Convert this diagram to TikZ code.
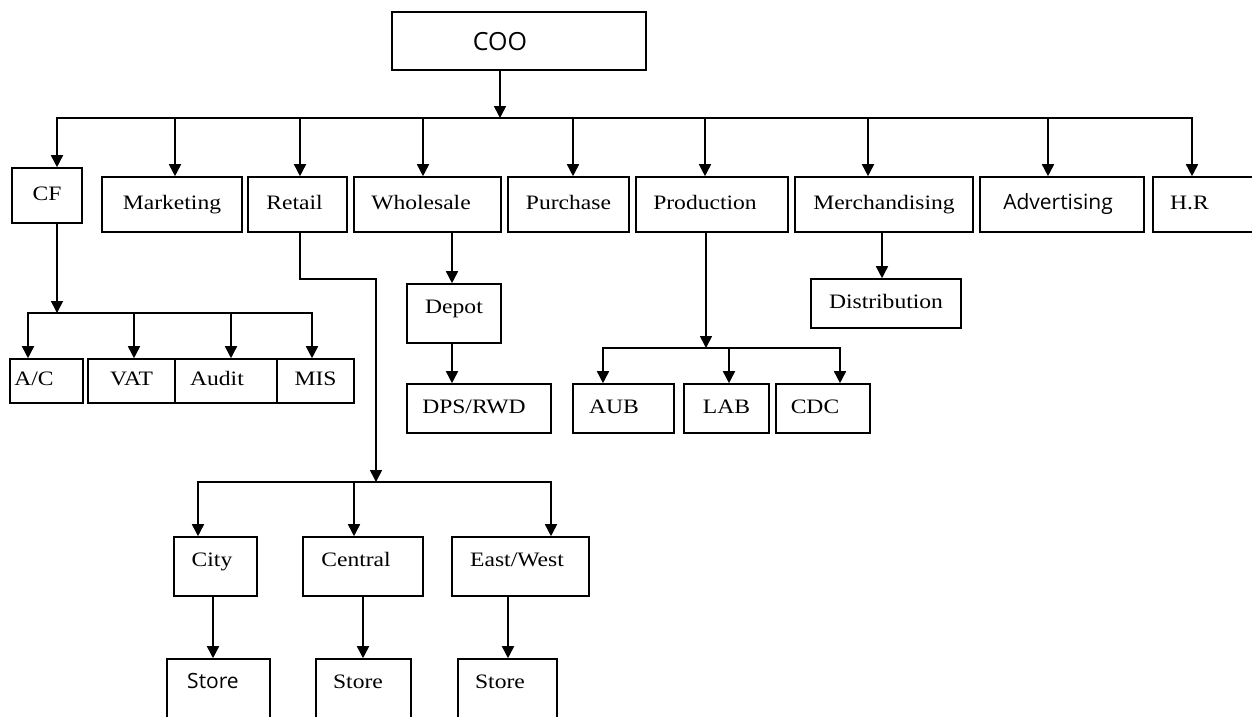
\documentclass[tikz,border=0pt]{standalone}
\usepackage{fontspec}
\setmainfont{Liberation Serif}[FakeStretch=1.15]
\newfontfamily\sansfnt{Open Sans}
\usetikzlibrary{arrows.meta}
\tikzset{
  box/.style={draw, inner sep=0pt, text height=14pt, text depth=4.5pt, font=\fontsize{20.5}{22}\selectfont},
  tallbox/.style={box, text depth=14pt},
  storebox/.style={box, text depth=26pt},
  sansbox/.style={font=\sansfnt\fontsize{21}{23}\selectfont}
}
\begin{document}
\begin{tikzpicture}[x=1pt, y=-1pt, line width=1.6pt, >={Triangle[width=12pt,length=12pt]}]
      \useasboundingbox (0,0) rectangle (1252,716);
      \node[box, minimum width=254, minimum height=58, text height=18pt, text depth=0pt, font=\sansfnt\fontsize{25}{27}\selectfont] at (519,41) (coo) {COO\hspace*{38pt}};

      % first level
      \node[box, minimum width=70, minimum height=55] at (47,195.5) (cf) {CF};
      \node[box, minimum width=140, minimum height=55] at (172,204.5) (mkt) {Marketing};
      \node[box, minimum width=99, minimum height=55] at (297.5,204.5) (retail) {Retail\hspace*{6pt}};
      \node[box, minimum width=147, minimum height=55] at (427.5,204.5) (whole) {Wholesale\hspace*{13pt}};
      \node[box, minimum width=121, minimum height=55] at (568.5,204.5) (purch) {Purchase};
      \node[box, minimum width=152, minimum height=55] at (712,204.5) (prod) {Production\hspace*{14pt}};
      \node[box, minimum width=178, minimum height=55] at (884,204.5) (merch) {Merchandising};
      \node[box, sansbox, minimum width=164, minimum height=55] at (1062,204.5) (advert) {Advertising\hspace*{8pt}};
      \node[box, minimum width=117, minimum height=55] at (1211.5,204.5) (hr) {H.R\hspace*{44pt}};

      % under CF
      \node[box, minimum width=73, minimum height=44] at (46.5,381) (ac) {A/C\hspace*{25pt}};
      \node[box, minimum width=87, minimum height=44] at (131.5,381) (vat) {VAT};
      \node[box, minimum width=102, minimum height=44] at (226,381) (audit) {Audit\hspace*{18pt}};
      \node[box, minimum width=77, minimum height=44] at (315.5,381) (mis) {MIS};

      % under wholesale, production, merchandising
      \node[tallbox, minimum width=94, minimum height=59] at (454,313.5) (depot) {Depot};
      \node[box, minimum width=144, minimum height=49] at (479,408.5) (dps) {DPS/RWD\hspace*{10pt}};
      \node[box, minimum width=101, minimum height=49] at (623.5,408.5) (aub) {AUB\hspace*{19pt}};
      \node[box, minimum width=85, minimum height=49] at (726.5,408.5) (lab) {LAB};
      \node[box, minimum width=94, minimum height=49] at (823,408.5) (cdc) {CDC\hspace*{16pt}};
      \node[box, minimum width=150, minimum height=49] at (886,303.5) (distr) {Distribution};

      % under retail
      \node[tallbox, minimum width=83, minimum height=59] at (215.5,566.5) (city) {City\hspace*{7pt}};
      \node[tallbox, minimum width=120, minimum height=59] at (363,566.5) (central) {Central\hspace*{14pt}};
      \node[tallbox, minimum width=137, minimum height=59] at (520.5,566.5) (eastwest) {East/West\hspace*{7pt}};
      \node[storebox, sansbox, minimum width=103, minimum height=70] at (218.5,694) (store1) {Store\hspace*{11pt}};
      \node[storebox, minimum width=95, minimum height=70] at (363.5,694) (store2) {Store\hspace*{11pt}};
      \node[storebox, minimum width=99, minimum height=70] at (507.5,694) (store3) {Store\hspace*{15pt}};

      % draw edges
      \coordinate (bus) at (500,118);
      \draw[->] (coo.south -| bus) -- (bus);
      \draw[->] (bus) -| ([xshift=10pt]cf.north);
      \draw[->] (bus) -| ([xshift=3pt]mkt.north);
      \draw[->] (bus) -| ([xshift=2.5pt]retail.north);
      \draw[->] (bus) -| ([xshift=-4.5pt]whole.north);
      \draw[->] (bus) -| ([xshift=4.5pt]purch.north);
      \draw[->] (bus) -| ([xshift=-7pt]prod.north);
      \draw[->] (bus) -| ([xshift=-16pt]merch.north);
      \draw[->] (bus) -| ([xshift=-14pt]advert.north);
      \draw[->] (bus) -| ([xshift=-19.5pt]hr.north);

      \coordinate (cfbus) at (57,313);
      \draw[->] ([xshift=10pt]cf.south) -- (cfbus);
      \draw[->] (cfbus) -| ([xshift=-18.5pt]ac.north);
      \draw[->] (cfbus) -| ([xshift=2.5pt]vat.north);
      \draw[->] (cfbus) -| ([xshift=5pt]audit.north);
      \draw[->] (cfbus) -| ([xshift=-3.5pt]mis.north);

      \coordinate (rbend) at (376,279);
      \coordinate (rbus) at (376,482);
      \draw[->] ([xshift=2.5pt]retail.south) |- (rbend) -- (rbus);
      \draw[->] (rbus) -| ([xshift=-17.5pt]city.north);
      \draw[->] (rbus) -| ([xshift=-9pt]central.north);
      \draw[->] (rbus) -| ([xshift=30.5pt]eastwest.north);
      \draw[->] ([xshift=-2.5pt]city.south) -- ([xshift=-2.5pt]city.south |- store1.north);
      \draw[->] (central.south) -- (central.south |- store2.north);
      \draw[->] ([xshift=-12.5pt]eastwest.south) -- ([xshift=-12.5pt]eastwest.south |- store3.north);

      \draw[->] ([xshift=24.5pt]whole.south) -- ([xshift=24.5pt]whole.south |- depot.north);
      \draw[->] ([xshift=-2pt]depot.south) -- ([xshift=-2pt]depot.south |- dps.north);

      \coordinate (pbus) at (706,348);
      \draw[->] ([xshift=-6pt]prod.south) -- (pbus);
      \draw[->] (pbus) -| ([xshift=-20.5pt]aub.north);
      \draw[->] (pbus) -| ([xshift=2.5pt]lab.north);
      \draw[->] (pbus) -| ([xshift=17pt]cdc.north);

      \draw[->] ([xshift=-2pt]merch.south) -- ([xshift=-2pt]merch.south |- distr.north);
  \end{tikzpicture}
\end{document}
